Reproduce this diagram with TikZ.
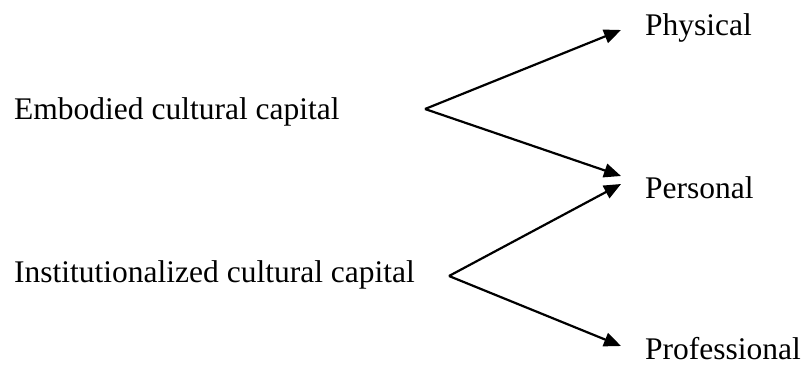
\documentclass[tikz,border=0pt]{standalone}
\usepackage{fontspec}
\setmainfont{Liberation Serif}
\usetikzlibrary{arrows.meta}
\tikzset{
  lbl/.style={anchor=base west, inner sep=0pt, font=\fontsize{31.5}{38}\selectfont},
  conn/.style={line width=2.2pt, -{Triangle[length=17pt,width=14pt]}}
}
\begin{document}
\begin{tikzpicture}[x=1pt,y=-1pt]
\useasboundingbox (0,0) rectangle (805,367);
\node[lbl] (emb) at (14,119) {Embodied cultural capital};
\node[lbl] (inst) at (14,282) {Institutionalized cultural capital};
\node[lbl] (phys) at (645,35) {Physical};
\node[lbl] (pers) at (645,198) {Personal};
\node[lbl] (prof) at (645,359) {Professional};
\coordinate (a1) at (425,109);
\coordinate (a2) at (449,276);
\coordinate (t1) at (621,30);
\coordinate (t2) at (621,176);
\coordinate (t3) at (621,184);
\coordinate (t4) at (621,346);
\draw[conn] (a1) -- (t1);
\draw[conn] (a1) -- (t2);
\draw[conn] (a2) -- (t3);
\draw[conn] (a2) -- (t4);
\end{tikzpicture}
\end{document}
